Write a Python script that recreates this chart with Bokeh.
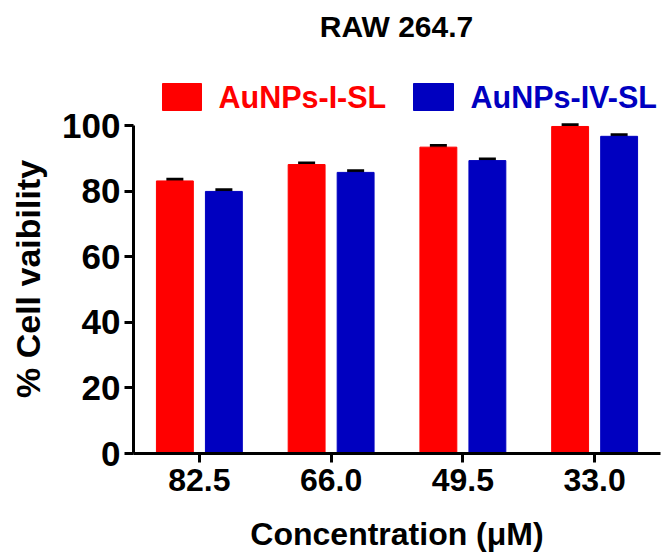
from bokeh.plotting import figure
from bokeh.models import (FactorRange, Range1d, Whisker, TeeHead, ColumnDataSource)
from bokeh.core.properties import value
from bokeh.transform import dodge
from bokeh.embed import file_html
from bokeh.resources import INLINE

# ---- data ----
concentrations = ["82.5", "66.0", "49.5", "33.0"]
aunps_i_sl = [83.1, 88.1, 93.4, 99.7]
aunps_iv_sl = [79.9, 85.7, 89.3, 96.7]
sd_i_sl = [0.2, 0.2, 0.2, 0.2]
sd_iv_sl = [0.2, 0.2, 0.2, 0.2]
y_ticks = [0, 20, 40, 60, 80, 100]
y_axis_max = 100
series_names = ["AuNPs-I-SL", "AuNPs-IV-SL"]
chart_title = "RAW 264.7"
y_title = "% Cell vaibility"
x_title = "Concentration (\u03bcM)"

RED = "#FF0000"
BLUE = "#0000C0"
FONT = "Liberation Sans"

# ---- layout (page pixels) ----
W_PX, H_PX = 664, 554
LEFT, RIGHT, BOTTOM = 133, 660, 453     # frame edges on the page
AXIS_TOP = 125                          # page y where the value axis ends (100)
y_top = y_axis_max * BOTTOM / (BOTTOM - AXIS_TOP)


def hx(px):
    """page x pixel -> synthetic categorical coordinate (for the header only)"""
    return (px - LEFT) * len(concentrations) / (RIGHT - LEFT)


src = ColumnDataSource(dict(
    conc=concentrations,
    v1=aunps_i_sl,
    v2=aunps_iv_sl,
    u1=[v + e for v, e in zip(aunps_i_sl, sd_i_sl)],
    u2=[v + e for v, e in zip(aunps_iv_sl, sd_iv_sl)],
))

p = figure(width=W_PX, height=H_PX, output_backend="svg", toolbar_location=None,
           x_range=FactorRange(factors=concentrations, range_padding=0),
           y_range=Range1d(0, y_top),
           min_border_left=LEFT, min_border_right=W_PX - RIGHT,
           min_border_top=0, min_border_bottom=H_PX - BOTTOM)
p.title_location = None
p.outline_line_color = None
p.grid.visible = False
# pixel-space vertical range for the header (title + legend)
p.extra_y_ranges = {"px": Range1d(BOTTOM, 0)}

OFF = 0.186
BW = 0.28
r1 = p.vbar(x=dodge("conc", -OFF, range=p.x_range), top="v1", width=BW, bottom=0,
            source=src, fill_color=RED, line_color=RED)
r2 = p.vbar(x=dodge("conc", OFF, range=p.x_range), top="v2", width=BW, bottom=0,
            source=src, fill_color=BLUE, line_color=BLUE)

for off, up, lo in [(-OFF, "u1", "v1"), (OFF, "u2", "v2")]:
    w = Whisker(base=dodge("conc", off, range=p.x_range), upper=up, lower=lo,
                source=src, line_color="black", line_width=3,
                upper_head=TeeHead(size=17, line_width=5, line_color="black"),
                lower_head=None)
    p.add_layout(w)

# header: title and legend
p.text(x=[hx(396)], y=[26], text=[chart_title], text_font=value(FONT),
       text_font_style="bold", text_font_size="30px", text_align="center",
       text_baseline="middle", text_color="black", y_range_name="px")
p.quad(left=[hx(162), hx(413)], right=[hx(201), hx(453)], top=[83, 83],
       bottom=[110, 110], fill_color=[RED, BLUE], line_color=[RED, BLUE],
       y_range_name="px")
p.text(x=[hx(218), hx(470)], y=[96.5, 96.5], text=series_names,
       text_font=value(FONT), text_font_style="bold", text_font_size="30.5px",
       text_align="left", text_baseline="middle", text_color=[RED, BLUE],
       y_range_name="px")

for ax in (p.xaxis[0], p.yaxis[0]):
    ax.axis_line_width = 3
    ax.axis_line_color = "black"
    ax.major_tick_line_width = 3
    ax.major_tick_line_color = "black"
    ax.major_tick_in = 0
    ax.major_tick_out = 9
    ax.minor_tick_line_color = None
    ax.major_label_text_font = FONT
    ax.major_label_text_font_style = "bold"
    ax.major_label_text_color = "black"
    ax.axis_label_text_font = FONT
    ax.axis_label_text_font_style = "bold"
    ax.axis_label_text_color = "black"

p.yaxis.ticker = y_ticks
p.yaxis.bounds = (0, y_axis_max)
p.yaxis.major_label_text_font_size = "35px"
p.yaxis.major_label_standoff = 4
# the label is centred on the whole (taller) frame; trailing no-break spaces
# shift the visible words down to the centre of the bounded 0-100 axis
p.yaxis.axis_label = y_title + "\u00a0" * 11
p.yaxis.axis_label_text_font_size = "34px"
p.yaxis.axis_label_standoff = 12

p.xaxis.major_label_text_font_size = "32px"
p.xaxis.major_label_standoff = 6
p.xaxis.axis_label = x_title
p.xaxis.axis_label_text_font_size = "32px"
p.xaxis.axis_label_standoff = 22

open("out.html", "w").write(file_html(p, INLINE))
